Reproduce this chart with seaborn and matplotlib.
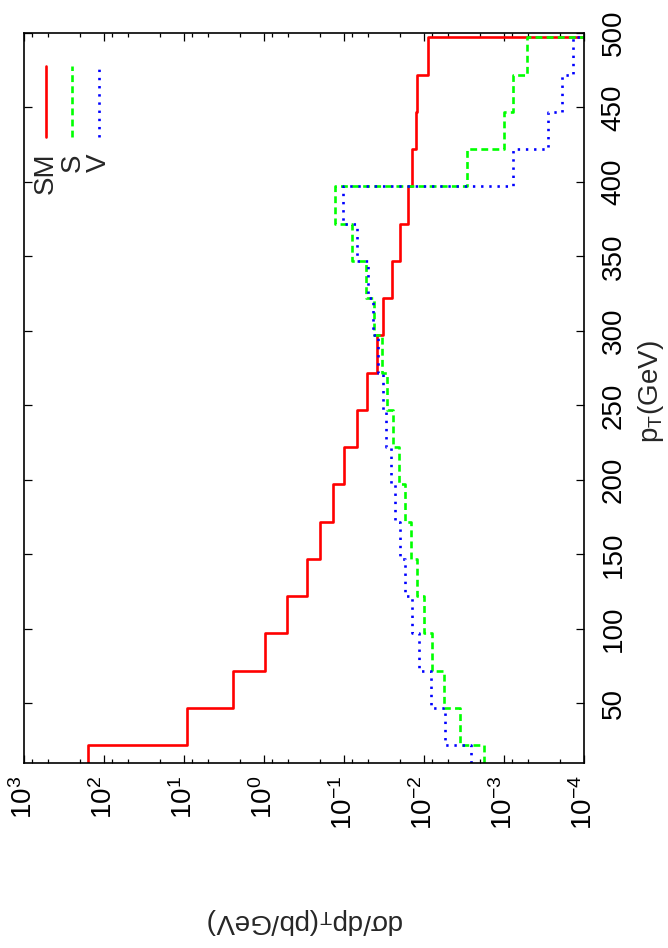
import matplotlib
matplotlib.use("Agg")
import numpy as np
import pandas as pd
import seaborn as sns
import matplotlib.pyplot as plt
from matplotlib.ticker import FixedLocator, NullFormatter

# ---- data ----
pt_edges = [10, 22, 47, 72, 97, 122, 147, 172, 197, 222, 247, 272, 297,
            322, 347, 372, 397, 422, 447, 472, 497, 500]
sm_vals = [157, 9.25, 2.44, 0.972, 0.516, 0.290, 0.200, 0.137, 0.100, 0.0688,
           0.0516, 0.0387, 0.0326, 0.0251, 0.0200, 0.0158, 0.0141, 0.0127,
           0.0122, 0.00891, 1e-6]
s_vals = [0.00178, 0.00355, 0.00562, 0.00794, 0.0100, 0.0122, 0.01454, 0.01728,
          0.0205, 0.0244, 0.0290, 0.0335, 0.0422, 0.0531, 0.0794, 0.1296,
          0.0029, 0.0010, 0.000772, 0.000516, 1e-6]
v_vals = [0.00259, 0.00546, 0.00818, 0.01155, 0.0141, 0.01728, 0.0200, 0.0230,
          0.0259, 0.0299, 0.0326, 0.0376, 0.0434, 0.0501, 0.0688, 0.1029,
          0.000772, 0.000282, 0.000188, 0.000137, 1e-6]
series_names = ["SM", "S", "V"]
x_ticks = [1e3, 1e2, 1e1, 1e0, 1e-1, 1e-2, 1e-3, 1e-4]
x_ticklabels = ["$10^{3}$", "$10^{2}$", "$10^{1}$", "$10^{0}$",
                "$10^{-1}$", "$10^{-2}$", "$10^{-3}$", "$10^{-4}$"]
y_ticks = [50, 100, 150, 200, 250, 300, 350, 400, 450, 500]

# ---- style ----
sns.set_style("ticks")
plt.rcParams["font.family"] = ["Liberation Sans", "DejaVu Sans"]
plt.rcParams["mathtext.fontset"] = "custom"
plt.rcParams["mathtext.rm"] = "Liberation Sans"
plt.rcParams["mathtext.it"] = "Liberation Sans"
plt.rcParams["mathtext.default"] = "regular"

FS = 20
colors = {"SM": "#ff0000", "S": "#00ff00", "V": "#0000ff"}
lw = 1.9
dash_styles = {"SM": None, "S": (2.6, 1.6), "V": (0.9, 2.2)}

fig = plt.figure(figsize=(6.68, 9.48), dpi=100)
ax = fig.add_axes([24 / 668, 1 - 763 / 948, 560 / 668, 730 / 948])
ax.set_xscale("log")
ax.set_xlim(1e3, 1e-4)
ax.set_ylim(10, 500)

for name, vals in zip(series_names, [sm_vals, s_vals, v_vals]):
    df = pd.DataFrame({"pT": pt_edges, "value": list(vals) + [vals[-1]]})
    sns.lineplot(data=df, x="value", y="pT", orient="y", estimator=None,
                 sort=False, drawstyle="steps-pre", color=colors[name],
                 linewidth=lw, ax=ax)
    line = ax.lines[-1]
    if dash_styles[name] is not None:
        line.set_dashes(dash_styles[name])

ax.set_xlabel("")
ax.set_ylabel("")

# ticks
ax.set_xticks(x_ticks)
ax.set_xticklabels(x_ticklabels, rotation=90, fontsize=FS)
minor = [m * 10.0 ** e for e in range(-5, 3) for m in (2, 5, 8)]
ax.xaxis.set_minor_locator(FixedLocator(minor))
ax.xaxis.set_minor_formatter(NullFormatter())
ax.set_yticks(y_ticks)
ax.set_yticklabels([str(t) for t in y_ticks], rotation=90, va="center",
                   fontsize=FS)
ax.tick_params(which="both", direction="in", top=True, bottom=True,
               left=True, right=True, labelleft=False, labelright=True,
               width=0.9, colors="black")
ax.tick_params(which="major", length=6)
ax.tick_params(which="minor", length=3)
ax.tick_params(axis="x", pad=9)
ax.tick_params(axis="y", pad=12)
for sp in ax.spines.values():
    sp.set_linewidth(1.2)
    sp.set_color("black")
    sp.set_visible(True)

# legend (rotated, drawn manually)
leg_x = [(45.7 - 24) / 560, (72.3 - 24) / 560, (99 - 24) / 560]
leg_y0, leg_y1 = (763 - 137.3) / 730, (763 - 65.7) / 730
for name, lx in zip(series_names, leg_x):
    ln, = ax.plot([lx, lx], [leg_y0, leg_y1], transform=ax.transAxes,
                  color=colors[name], linewidth=lw)
    if dash_styles[name] is not None:
        ln.set_dashes(dash_styles[name])
    ax.text(lx, (763 - 153) / 730, name, rotation=90, ha="center", va="top",
            fontsize=FS, transform=ax.transAxes)

# axis titles
fig.text(651 / 668, 1 - 392 / 948, r"p$_\mathrm{T}$(GeV)", rotation=90,
         ha="center", va="center", fontsize=FS)
fig.text(306 / 668, 1 - 921 / 948, r"d$\sigma$/dp$_\mathrm{T}$(pb/GeV)",
         rotation=180, ha="center", va="center", fontsize=FS)

fig.savefig("out.png", dpi=100)
